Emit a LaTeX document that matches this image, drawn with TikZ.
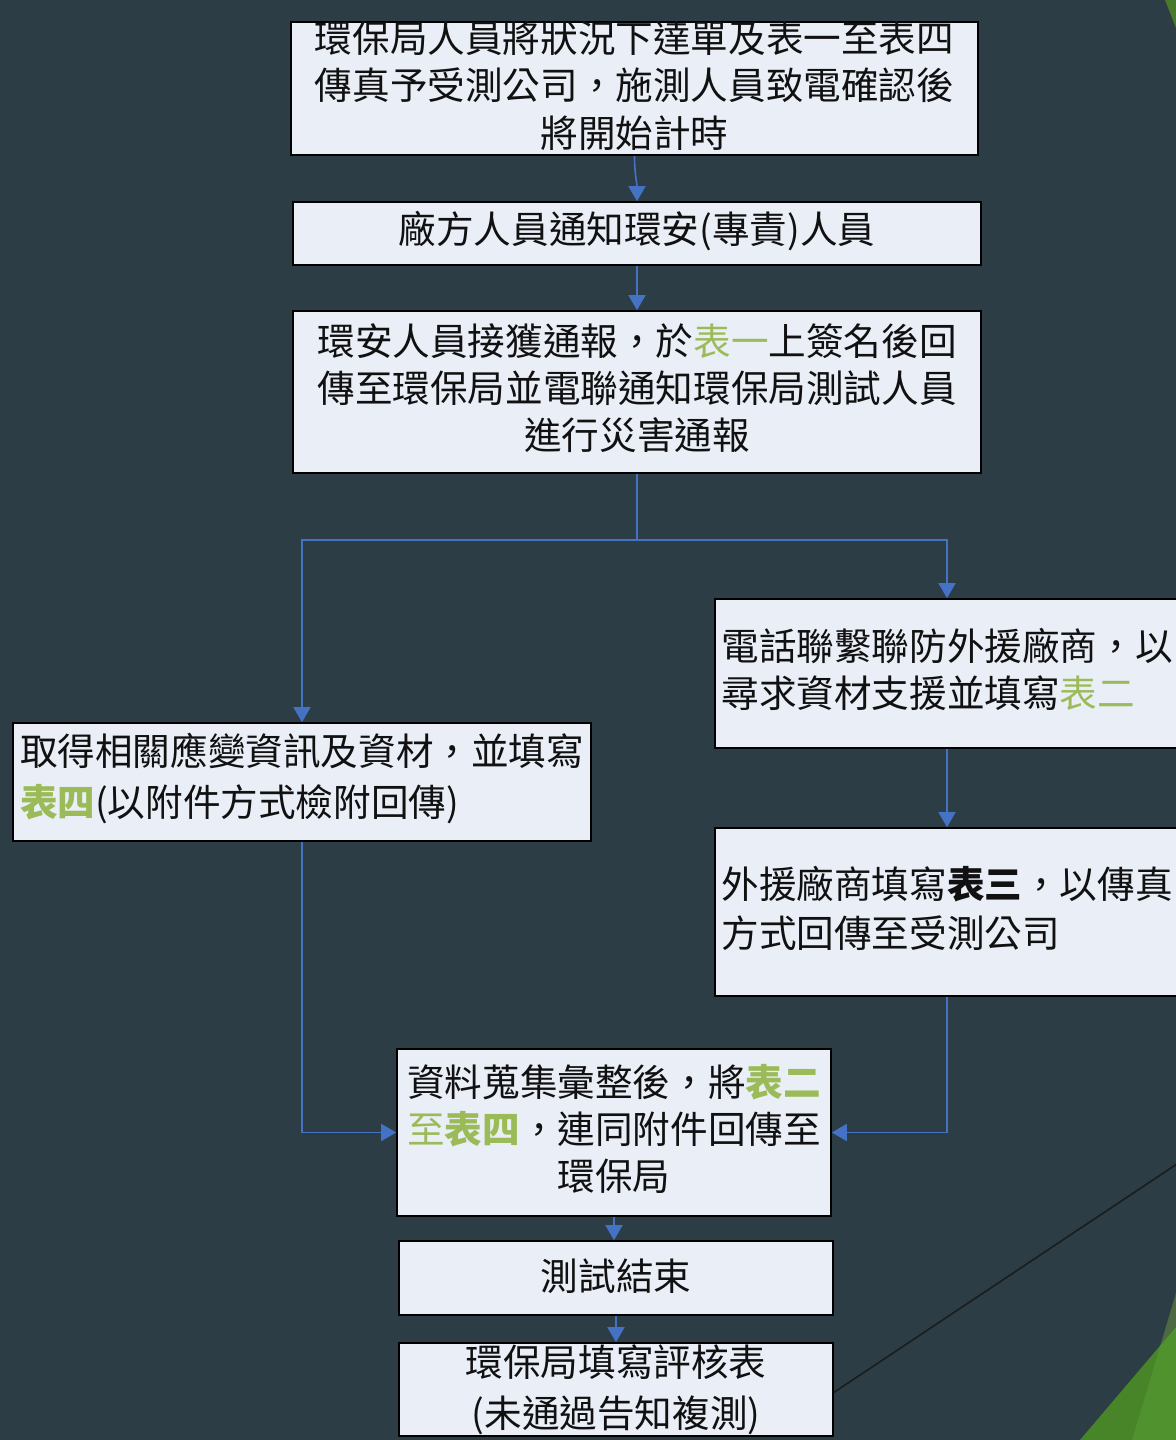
\documentclass[tikz,border=0pt]{standalone}
\usepackage{fontspec}
\usetikzlibrary{arrows.meta}
\newfontfamily\cjk[Script=CJK,Language=Chinese Traditional]{Noto Sans CJK TC}
\definecolor{bgc}{RGB}{45,61,69}
\definecolor{boxfill}{RGB}{233,238,247}
\definecolor{linkc}{RGB}{68,114,196}
\definecolor{hlg}{RGB}{155,187,89}
\definecolor{txtc}{RGB}{17,17,17}
\definecolor{gA}{RGB}{72,132,40}
\definecolor{gB}{RGB}{80,146,46}
\definecolor{gC}{RGB}{77,105,66}
\definecolor{gD}{RGB}{72,122,46}
\definecolor{decol}{RGB}{28,28,28}
\newcommand{\hl}[1]{\textcolor{hlg}{#1}}
\newcommand{\hlb}[1]{\textcolor{hlg}{\bfseries #1}}
\begin{document}
\begin{tikzpicture}[x=0.5pt,y=-0.5pt,
  boxshape/.style={draw=black, line width=0.8pt, fill=boxfill, inner sep=0pt},
  boxtext/.style={font={\cjk\fontsize{18.8pt}{23.5pt}\selectfont}, text=txtc, inner sep=0pt},
  link/.style={draw=linkc, line width=0.8pt},
  arrowed/.style={-{Triangle[width=8.5pt,length=7.5pt]}}
]
\useasboundingbox (0,0) rectangle (1176,1440);
\fill[bgc] (0,0) rectangle (1176,1440);
\clip (0,0) rectangle (1176,1440);

% decorative theme shapes
\fill[gD] (1165,0) -- (1176,28) -- (1176,0) -- cycle;
\fill[gA] (1080,1440) -- (1176,1327) -- (1176,1440) -- cycle;
\fill[gC] (1160.3,1345.5) -- (1176,1293) -- (1176,1327) -- cycle;
\fill[gB] (1132,1440) -- (1160.3,1345.5) -- (1176,1327) -- (1176,1440) -- cycle;
\draw[decol, line width=0.8pt] (833,1393) -- (1300,1082);

% box 1 (text clipped to the box)
\node[boxshape, minimum width=343.5pt, minimum height=66.5pt] (b1) at (634.5,88.5) {};
\begin{scope}
\clip (b1.south west) rectangle (b1.north east);
\node[boxtext, align=center, yshift=1.5pt, font={\cjk\fontsize{18.8pt}{23.75pt}\selectfont}] (t1) at (b1.center)
  {環保局人員將狀況下達單及表一至表四\\傳真予受測公司，施測人員致電確認後\\將開始計時};
\end{scope}

% box 2
\node[boxshape, minimum width=344pt, minimum height=31.5pt] (b2) at (637,233.5) {};
\node[boxtext, align=center, yshift=1pt] (t2) at (b2.center) {廠方人員通知環安(專責)人員};

% box 3
\node[boxshape, minimum width=344pt, minimum height=81pt] (b3) at (637,392) {};
\node[boxtext, align=center, yshift=2pt] (t3) at (b3.center)
  {環安人員接獲通報，於\hl{表一}上簽名後回\\傳至環保局並電聯通知環保局測試人員\\進行災害通報};

% left box
\node[boxshape, minimum width=289pt, minimum height=59pt] (lb) at (302,782) {};
\node[boxtext, align=left, yshift=1.75pt, font={\cjk\fontsize{18.8pt}{25.5pt}\selectfont}] (tl) at (lb.center)
  {取得相關應變資訊及資材，並填寫\\\hlb{表四}(以附件方式檢附回傳)};

% right box 1
\node[boxshape, minimum width=232pt, minimum height=74.5pt] (r1) at (947,673.5) {};
\node[boxtext, align=left, yshift=2pt] (tr1) at (r1.center)
  {電話聯繫聯防外援廠商，以\\尋求資材支援並填寫\hl{表二}};

% right box 2
\node[boxshape, minimum width=232pt, minimum height=84pt] (r2) at (947,912) {};
\node[boxtext, align=left, yshift=1.75pt, font={\cjk\fontsize{18.8pt}{24.5pt}\selectfont}] (tr2) at (r2.center)
  {外援廠商填寫{\bfseries 表三}，以傳真\\方式回傳至受測公司};

% collecting box
\node[boxshape, minimum width=217pt, minimum height=83.5pt] (cb) at (614,1132.5) {};
\node[boxtext, align=center, yshift=1.75pt] (tc) at (cb.center)
  {資料蒐集彙整後，將\hlb{表二}\\\hl{至}\hlb{表四}，連同附件回傳至\\環保局};

% end box
\node[boxshape, minimum width=217pt, minimum height=37pt] (eb) at (616,1278) {};
\node[boxtext, align=center, yshift=1pt] (te) at (eb.center) {測試結束};

% final box
\node[boxshape, minimum width=217pt, minimum height=46.5pt] (fb) at (616,1389.5) {};
\node[boxtext, align=center, yshift=0pt, font={\cjk\fontsize{18.8pt}{25.5pt}\selectfont}] (tf) at (fb.center)
  {環保局填寫評核表\\(未通過告知複測)};

% connectors
\coordinate (split) at (637,540);
\draw[link, arrowed] (b1.south) to[out=-90,in=90] (b2.north);
\draw[link, arrowed] (b2.south) -- (b3.north);
\draw[link] (b3.south) -- (split);
\draw[link, arrowed] (split) -| (lb.north);
\draw[link, arrowed] (split) -| (r1.north);
\draw[link, arrowed] (r1.south) -- (r2.north);
\draw[link, arrowed] (lb.south) |- (cb.west);
\draw[link, arrowed] (r2.south) |- (cb.east);
\draw[link, arrowed] (cb.south) -- (cb.south |- eb.north);
\draw[link, arrowed] (eb.south) -- (fb.north);
\end{tikzpicture}
\end{document}
